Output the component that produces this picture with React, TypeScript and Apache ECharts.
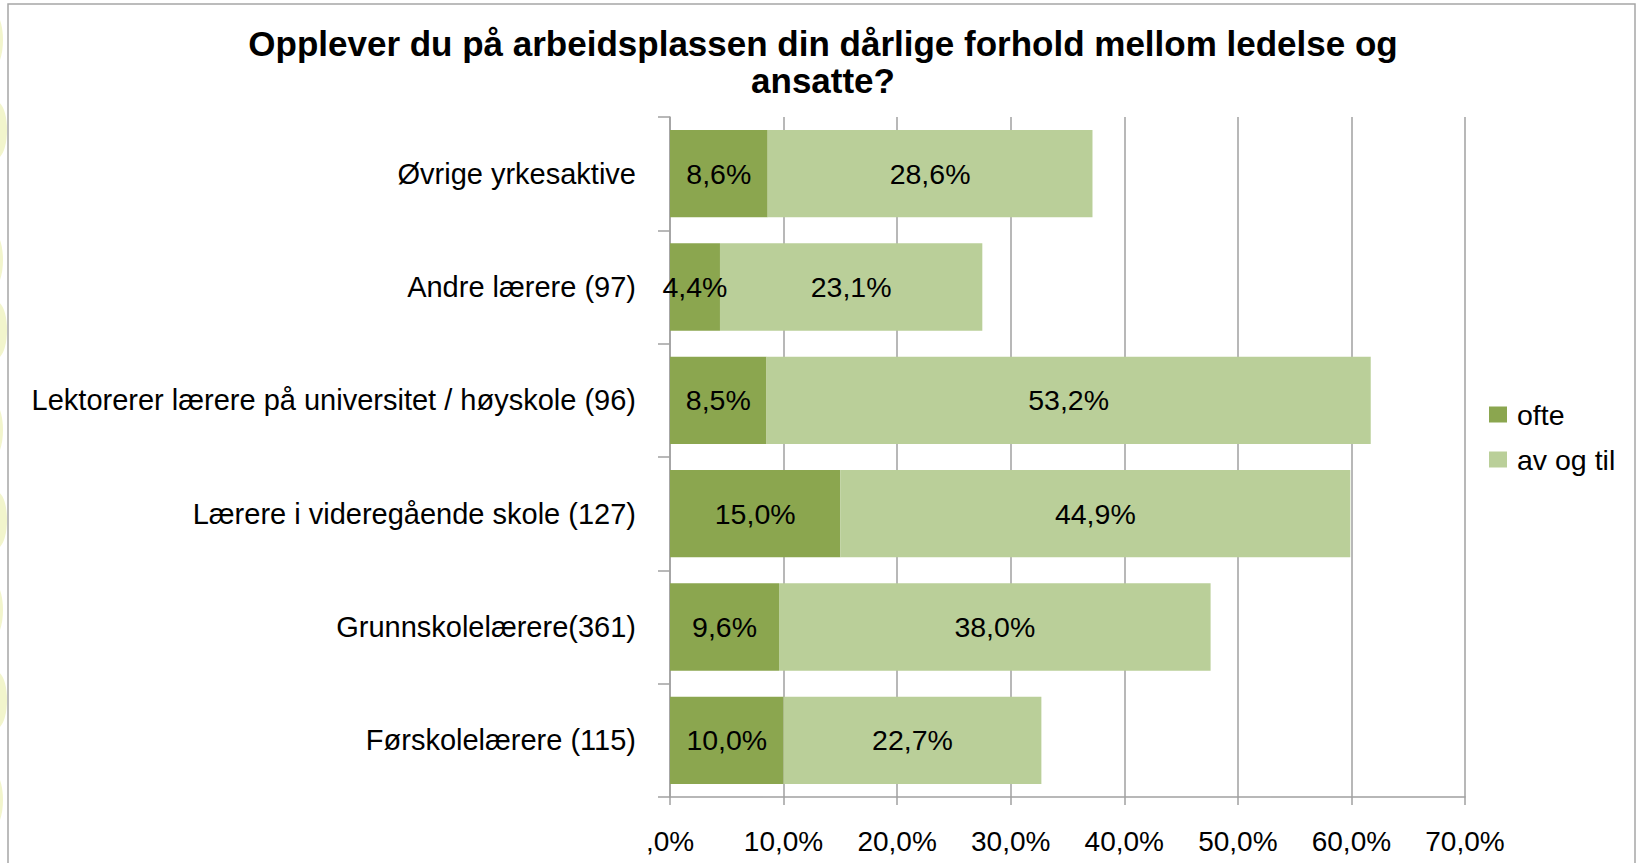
import React, { useEffect, useRef } from "react";
import * as echarts from "echarts";

const titleText = "Opplever du på arbeidsplassen din dårlige forhold mellom ledelse og\nansatte?";
const categories = [
  "Øvrige yrkesaktive",
  "Andre lærere (97)",
  "Lektorerer lærere på universitet / høyskole (96)",
  "Lærere i videregående skole (127)",
  "Grunnskolelærere(361)",
  "Førskolelærere (115)",
];
const seriesNames = ["ofte", "av og til"];
const ofteValues = [8.6, 4.4, 8.5, 15.0, 9.6, 10.0];
const avOgTilValues = [28.6, 23.1, 53.2, 44.9, 38.0, 22.7];
const xTicks = [0, 10, 20, 30, 40, 50, 60, 70];

const FONT = "'Liberation Sans', Arial, sans-serif";
const fmt = (v: number) => (v === 0 ? ",0%" : v.toFixed(1).replace(".", ",") + "%");

export default function App() {
  const ref = useRef<HTMLDivElement>(null);
  useEffect(() => {
    if (!ref.current) return;
    const chart = echarts.init(ref.current, null, { renderer: "svg" });
    const deco: any[] = [];
    const decoY = [40, 130, 260, 330, 430, 520, 610, 700, 800];
    decoY.forEach((y, i) => {
      deco.push({
        type: "ellipse",
        shape: { cx: i % 2 === 0 ? -7 : -3, cy: y, rx: 10, ry: 28 },
        style: { fill: "#f2f5cc", stroke: "none" },
        z: -10,
      });
    });
    chart.setOption({
      animation: false,
      backgroundColor: "#ffffff",
      title: {
        text: titleText,
        left: 818,
        top: 20,
        textAlign: "center",
        textStyle: {
          fontFamily: FONT,
          fontSize: 35,
          fontWeight: "bold",
          color: "#000",
          lineHeight: 37,
        },
      },
      legend: {
        orient: "vertical",
        left: 1484,
        top: 395,
        itemWidth: 18,
        itemHeight: 16,
        itemGap: 16,
        icon: "rect",
        data: seriesNames,
        textStyle: {
          fontFamily: FONT,
          fontSize: 28.5,
          color: "#000",
          lineHeight: 29,
          padding: [0, 0, 0, 5],
        },
      },
      grid: { left: 670, right: 175, top: 117, bottom: 66, containLabel: false },
      xAxis: {
        type: "value",
        min: 0,
        max: 70,
        interval: 10,
        axisLine: { show: true, lineStyle: { color: "#a0a0a0", width: 1.5 } },
        axisTick: { show: true, length: 8, lineStyle: { color: "#a0a0a0", width: 1.5 } },
        splitLine: { show: true, lineStyle: { color: "#a0a0a0", width: 1.5 } },
        axisLabel: {
          formatter: (v: number) => (xTicks.includes(v) ? fmt(v) : ""),
          fontFamily: FONT,
          fontSize: 28,
          color: "#000",
          margin: 30,
        },
      },
      yAxis: {
        type: "category",
        inverse: true,
        data: categories,
        axisLine: { show: true, lineStyle: { color: "#a0a0a0", width: 1.5 } },
        axisTick: { show: true, length: 12, lineStyle: { color: "#a0a0a0", width: 1.5 } },
        axisLabel: {
          fontFamily: FONT,
          fontSize: 29,
          color: "#000",
          margin: 34,
        },
      },
      series: [
        {
          name: seriesNames[0],
          type: "bar",
          stack: "total",
          barCategoryGap: "23%",
          data: ofteValues,
          itemStyle: { color: "#8ba64f" },
          label: {
            show: true,
            position: "inside",
            formatter: (p: any) => fmt(p.value),
            fontFamily: FONT,
            fontSize: 28.5,
            color: "#000",
          },
        },
        {
          name: seriesNames[1],
          type: "bar",
          stack: "total",
          barCategoryGap: "23%",
          data: avOgTilValues,
          itemStyle: { color: "#bacf99" },
          label: {
            show: true,
            position: "inside",
            formatter: (p: any) => fmt(p.value),
            fontFamily: FONT,
            fontSize: 28.5,
            color: "#000",
          },
        },
      ],
      graphic: [
        ...deco,
        {
          type: "rect",
          shape: { x: 8, y: 4, width: 1627, height: 880 },
          style: { fill: "none", stroke: "#a6a6a6", lineWidth: 1.5 },
          silent: true,
          z: 100,
        },
      ],
    });
    return () => chart.dispose();
  }, []);
  return (
    <div
      ref={ref}
      style={{ position: "fixed", left: 0, top: 0, width: 1640, height: 863 }}
    />
  );
}
